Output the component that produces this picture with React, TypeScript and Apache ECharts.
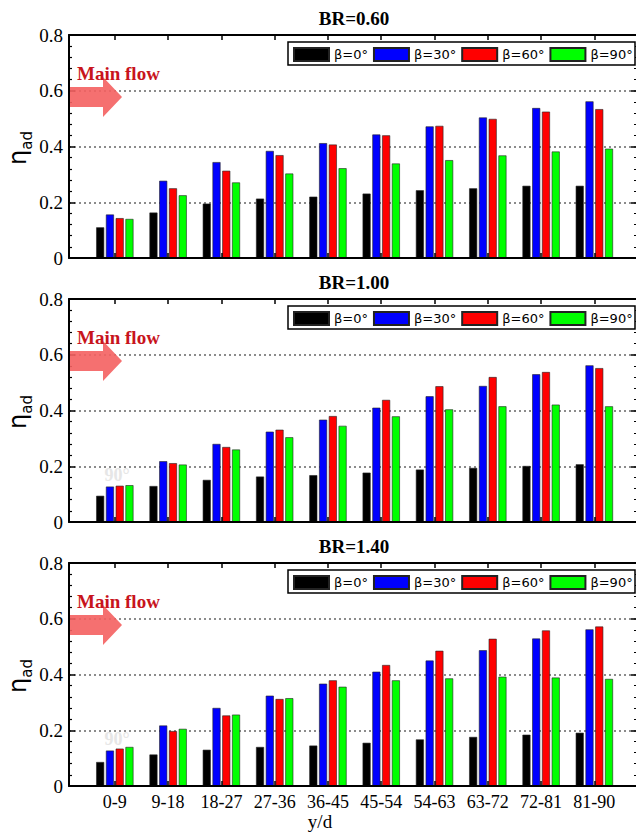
import React, { useEffect, useRef } from "react";
import * as echarts from "echarts";

const categories = ["0-9", "9-18", "18-27", "27-36", "36-45", "45-54", "54-63", "63-72", "72-81", "81-90"];
const seriesNames = ["β=0°", "β=30°", "β=60°", "β=90°"];
const seriesColors = ["#000000", "#0000ff", "#ff0000", "#00ff00"];
const panelTitles = ["BR=0.60", "BR=1.00", "BR=1.40"];

// BR = 0.60
const br060_b0 = [0.110, 0.163, 0.195, 0.213, 0.220, 0.231, 0.243, 0.250, 0.259, 0.259];
const br060_b30 = [0.156, 0.277, 0.344, 0.384, 0.412, 0.443, 0.472, 0.504, 0.538, 0.562];
const br060_b60 = [0.143, 0.250, 0.313, 0.369, 0.407, 0.440, 0.474, 0.499, 0.525, 0.534];
const br060_b90 = [0.140, 0.225, 0.271, 0.303, 0.322, 0.339, 0.351, 0.368, 0.382, 0.392];
// BR = 1.00
const br100_b0 = [0.094, 0.129, 0.151, 0.163, 0.168, 0.177, 0.188, 0.194, 0.201, 0.207];
const br100_b30 = [0.127, 0.218, 0.280, 0.324, 0.367, 0.410, 0.451, 0.488, 0.530, 0.562];
const br100_b60 = [0.130, 0.211, 0.269, 0.331, 0.380, 0.438, 0.487, 0.520, 0.538, 0.552];
const br100_b90 = [0.132, 0.206, 0.260, 0.304, 0.345, 0.379, 0.404, 0.415, 0.421, 0.415];
// BR = 1.40
const br140_b0 = [0.086, 0.113, 0.130, 0.140, 0.145, 0.155, 0.167, 0.176, 0.184, 0.191];
const br140_b30 = [0.127, 0.217, 0.280, 0.324, 0.367, 0.410, 0.450, 0.487, 0.529, 0.562];
const br140_b60 = [0.134, 0.197, 0.253, 0.312, 0.379, 0.434, 0.485, 0.528, 0.558, 0.572];
const br140_b90 = [0.140, 0.205, 0.256, 0.315, 0.356, 0.379, 0.386, 0.392, 0.389, 0.384];

const panelData = [
  [br060_b0, br060_b30, br060_b60, br060_b90],
  [br100_b0, br100_b30, br100_b60, br100_b90],
  [br140_b0, br140_b30, br140_b60, br140_b90],
];

const SERIF = "'Liberation Serif', 'Times New Roman', serif";
const SANS = "'DejaVu Sans', 'Liberation Sans', sans-serif";

export default function App() {
  const ref = useRef<HTMLDivElement>(null);

  useEffect(() => {
    if (!ref.current) return;
    const chart = echarts.init(ref.current, null, { renderer: "svg" });

    const GRID_LEFT = 69;
    const GRID_W = 568;
    const GRID_H = 223;
    const PANEL_STEP = 264;
    const tops = [35, 35 + PANEL_STEP, 35 + 2 * PANEL_STEP];
    const catIdx = categories.map((_, i) => i);

    const grids: any[] = [];
    const xAxes: any[] = [];
    const yAxes: any[] = [];
    const series: any[] = [];
    const titles: any[] = [];
    const legends: any[] = [];
    const graphics: any[] = [];

    tops.forEach((top, p) => {
      grids.push({ left: GRID_LEFT, top, width: GRID_W, height: GRID_H, containLabel: false });
      const axisLine = { show: true, onZero: false, lineStyle: { color: "#000", width: 2 } };
      // bottom x
      xAxes.push({
        type: "value",
        gridIndex: p,
        position: "bottom",
        min: -0.86,
        max: 9.8,
        axisLine,
        axisTick: { show: true, inside: true, length: 5, customValues: catIdx, lineStyle: { color: "#000", width: 1.5 } },
        axisLabel: {
          show: p === 2,
          customValues: catIdx,
          formatter: (v: number) => categories[Math.round(v)] ?? "",
          fontFamily: SERIF,
          fontSize: 18,
          color: "#000",
          margin: 7,
        },
        splitLine: { show: false },
        z: 5,
      });
      // top x
      xAxes.push({
        type: "value",
        gridIndex: p,
        position: "top",
        min: -0.86,
        max: 9.8,
        axisLine,
        axisTick: { show: true, inside: true, length: 5, customValues: catIdx, lineStyle: { color: "#000", width: 1.5 } },
        axisLabel: { show: false },
        splitLine: { show: false },
      });
      // left y
      yAxes.push({
        type: "value",
        gridIndex: p,
        position: "left",
        min: 0,
        max: 0.8,
        interval: 0.2,
        axisLine,
        axisTick: { show: true, inside: true, length: 6, lineStyle: { color: "#000", width: 1.5 } },
        minorTick: { show: true, splitNumber: 5, length: 3, lineStyle: { color: "#000", width: 1.2 } },
        axisLabel: {
          formatter: (v: number) => (v === 0 ? "0" : v.toFixed(1)),
          fontFamily: SERIF,
          fontSize: 19,
          color: "#000",
          margin: 6,
        },
        splitLine: { show: true, lineStyle: { color: "#666", width: 1.5, type: [2, 3] } },
      });
      // right y
      yAxes.push({
        type: "value",
        gridIndex: p,
        position: "right",
        min: 0,
        max: 0.8,
        interval: 0.2,
        axisLine,
        axisTick: { show: true, inside: true, length: 6, lineStyle: { color: "#000", width: 1.5 } },
        minorTick: { show: true, splitNumber: 5, length: 3, lineStyle: { color: "#000", width: 1.2 } },
        axisLabel: { show: false },
        splitLine: { show: false },
      });

      panelData[p].forEach((vals, s) => {
        series.push({
          type: "bar",
          name: seriesNames[s],
          xAxisIndex: p * 2,
          yAxisIndex: p * 2,
          barWidth: 8,
          barGap: "22%",
          data: vals.map((v, i) => [i, v]),
          itemStyle: { color: seriesColors[s], borderColor: "#222", borderWidth: 0.6 },
          z: 2,
        });
      });

      titles.push({
        text: panelTitles[p],
        left: 349,
        top: top - 31,
        textAlign: "center",
        textStyle: { fontFamily: SERIF, fontWeight: "bold", fontSize: 19, color: "#000" },
      });

      legends.push({
        data: seriesNames,
        left: 293,
        top: top + 12,
        padding: 0,
        orient: "horizontal",
        itemWidth: 35,
        itemHeight: 13,
        itemGap: 5,
        icon: "rect",
        selectedMode: false,
        textStyle: { fontFamily: SANS, fontSize: 13, color: "#000" },
        z: 10,
      });

      // legend box
      graphics.push({
        type: "rect",
        shape: { x: 288, y: top + 7, width: 347, height: 23 },
        style: { fill: "#fff", stroke: "#000", lineWidth: 1.5 },
        z: 5,
      });

      // main flow arrow
      const cy = top + 62;
      graphics.push({
        type: "polygon",
        shape: {
          points: [
            [GRID_LEFT + 1, cy - 10],
            [103, cy - 10],
            [103, cy - 20],
            [122, cy],
            [103, cy + 20],
            [103, cy + 10],
            [GRID_LEFT + 1, cy + 10],
          ],
        },
        style: { fill: "rgba(244, 96, 96, 0.9)" },
        z: 1,
      });
      graphics.push({
        type: "text",
        x: 77,
        y: top + 38,
        style: {
          text: "Main flow",
          fontFamily: SERIF,
          fontWeight: "bold",
          fontSize: 19,
          fill: "#c8141c",
          align: "left",
          verticalAlign: "middle",
        },
        z: 6,
      });

      // y axis name
      graphics.push({
        type: "text",
        x: 20,
        y: top + 113,
        rotation: Math.PI / 2,
        style: {
          text: "{a|η}{b|ad}",
          align: "center",
          verticalAlign: "middle",
          rich: {
            a: { fontFamily: SANS, fontSize: 24, fill: "#000", verticalAlign: "bottom", padding: [0, 0, 5, 0] },
            b: { fontFamily: SANS, fontSize: 15, fill: "#000", verticalAlign: "bottom" },
          },
        },
        z: 6,
      });

      if (p > 0) {
        graphics.push({
          type: "text",
          x: 117,
          y: top + 176,
          style: {
            text: "90°",
            fontFamily: SERIF,
            fontWeight: "bold",
            fontSize: 18,
            fill: "#e6e6e6",
            align: "center",
            verticalAlign: "middle",
          },
          z: 1,
        });
      }
    });

    graphics.push({
      type: "text",
      x: 320,
      y: 821,
      style: {
        text: "y/d",
        fontFamily: SERIF,
        fontSize: 19,
        fill: "#000",
        align: "center",
        verticalAlign: "middle",
      },
    });

    chart.setOption({
      animation: false,
      backgroundColor: "#fff",
      title: titles,
      legend: legends,
      grid: grids,
      xAxis: xAxes,
      yAxis: yAxes,
      series,
      graphic: graphics,
    });

    return () => chart.dispose();
  }, []);

  return (
    <div style={{ position: "absolute", left: 0, top: 0, width: 636, height: 833, overflow: "hidden", background: "#fff" }}>
      <div ref={ref} style={{ width: 660, height: 833 }} />
    </div>
  );
}
